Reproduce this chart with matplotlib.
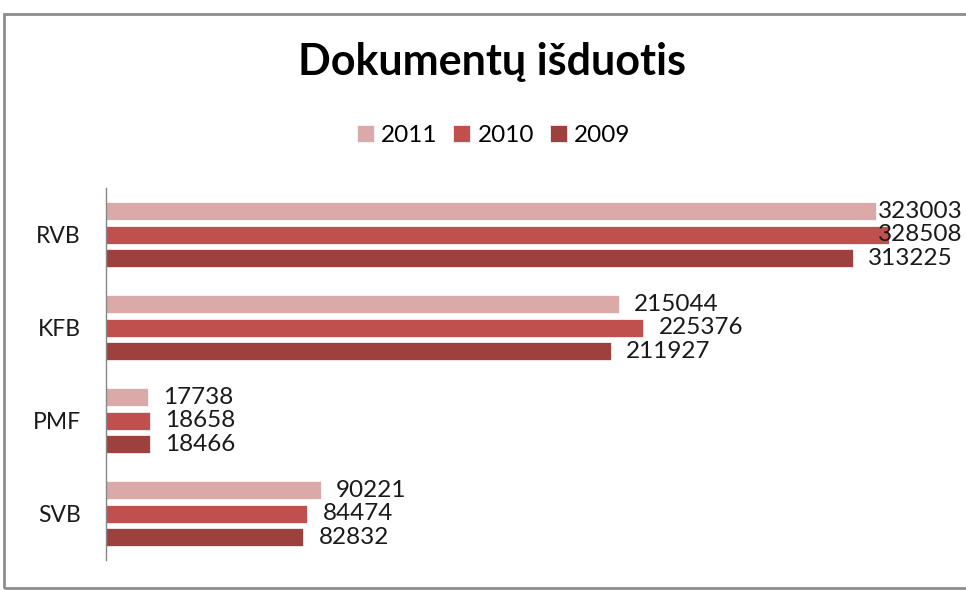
import numpy as np
import matplotlib.pyplot as plt
from matplotlib.patches import Rectangle

plt.rcParams['font.family'] = ['Lato', 'DejaVu Sans']

categories = ['SVB', 'PMF', 'KFB', 'RVB']
years = ['2011', '2010', '2009']
v2011 = [90221, 17738, 215044, 323003]
v2010 = [84474, 18658, 225376, 328508]
v2009 = [82832, 18466, 211927, 313225]
colors = ['#DBA9A8', '#C0504D', '#9E413E']

fig = plt.figure(figsize=(9.66, 5.9), dpi=100)
fig.patches.append(Rectangle((0.004, 0.004), 1.2, 0.973, transform=fig.transFigure,
                             fill=False, edgecolor='#8c8c8c', lw=2))
ax = fig.add_axes([0.1097, 0.0508, 0.864, 0.630])

y = np.arange(len(categories))
h = 0.195
step = 0.253
series = [v2011, v2010, v2009]
for i, (vals, c, yr) in enumerate(zip(series, colors, years)):
    pos = y + step * (1 - i)
    ax.barh(pos, vals, height=h, color=c, label=yr, edgecolor='white', linewidth=0.5)
    for p, v in zip(pos, vals):
        # labels kept inside the chart area, like Excel does
        xl = min(v + 6300, 323800)
        ax.text(xl, p, str(v), va='center', ha='left', fontsize=17.5, color='#1a1a1a')

ax.set_xlim(0, 350000)
ax.set_ylim(-0.5, 3.5)
ax.set_yticks(y)
ax.set_yticklabels(categories, fontsize=16.5, color='#1a1a1a')
ax.tick_params(axis='y', length=0, pad=18)
ax.set_xticks([])
for s in ['top', 'right', 'bottom']:
    ax.spines[s].set_visible(False)
ax.spines['left'].set_color('#868686')
ax.spines['left'].set_linewidth(1)

fig.text(0.509, 0.873, 'Dokumentų išduotis', ha='center', va='baseline',
         fontsize=31, fontweight='bold', color='black')
fig.legend(loc='center', bbox_to_anchor=(0.511, 0.771), ncol=3, frameon=False,
           fontsize=17.5, handlelength=0.7, handleheight=0.7, handletextpad=0.3,
           columnspacing=0.65)

fig.savefig('out.png', dpi=100)
